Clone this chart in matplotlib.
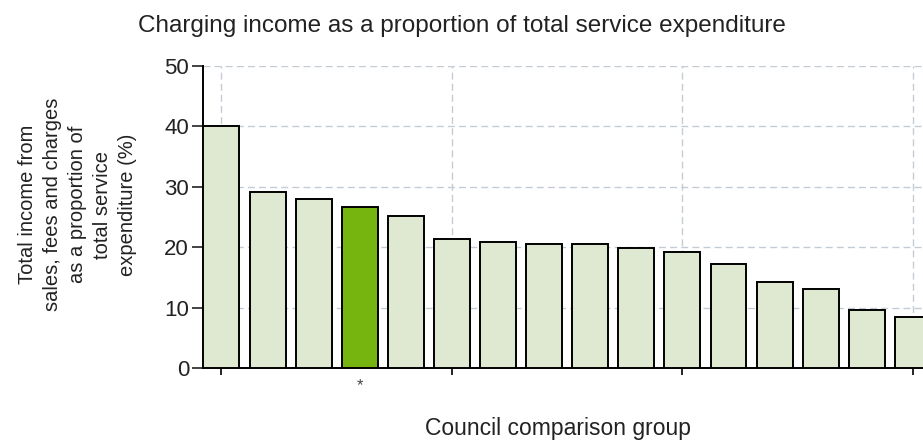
import numpy as np
import matplotlib.pyplot as plt

plt.rcParams['font.family'] = ['Liberation Sans', 'DejaVu Sans']

# values (%)
values = [40.0, 29.2, 27.9, 26.7, 25.1, 21.4, 20.9, 20.6, 20.5, 19.8, 19.2, 17.3, 14.2, 13.0, 9.6, 8.4]
highlight = 3          # the council marked with *
x_ticks = [0, 5, 10, 15]
y_ticks = [0, 10, 20, 30, 40, 50]

light = '#dfe9d2'
green = '#76b50f'
grid_col = '#c3ccd4'

fig = plt.figure(figsize=(9.23, 4.40), dpi=100)
ax = fig.add_axes([203/923, 72/440, 720/923, 302/440])

x = np.arange(len(values))
colors = [green if i == highlight else light for i in x]
ax.bar(x, values, width=0.78, color=colors, edgecolor='black', linewidth=1.4, zorder=3)

ax.set_xlim(-0.4, 15.22)
ax.set_ylim(0, 50)
ax.set_yticks(y_ticks)
ax.set_xticks(x_ticks)
ax.set_xticklabels([])
ax.tick_params(axis='y', labelsize=16, length=8, width=1.2, pad=2, colors='#222222')
ax.tick_params(axis='x', length=5, width=1.2)
ax.grid(True, linestyle=(0, (5, 3)), color=grid_col, linewidth=1, zorder=0)

for s in ['top', 'right']:
    ax.spines[s].set_visible(False)
ax.spines['left'].set_linewidth(1.4)
ax.spines['bottom'].set_linewidth(1.4)

# star under the highlighted bar
ax.text(highlight, -1.6, '*', ha='center', va='top', fontsize=12, color='#444444')

fig.text(0.5, 0.94, 'Charging income as a proportion of total service expenditure',
         ha='center', va='center', fontsize=17.5, color='#222222')
fig.text(0.605, 0.027, 'Council comparison group', ha='center', va='center',
         fontsize=16.5, color='#222222')
fig.text(0.084, 0.535, 'Total income from\nsales, fees and charges\nas a proportion of\ntotal service\nexpenditure (%)',
         ha='center', va='center', rotation=90, fontsize=14.5, linespacing=1.4,
         multialignment='center', color='#222222')

fig.savefig('out.png', dpi=100)
